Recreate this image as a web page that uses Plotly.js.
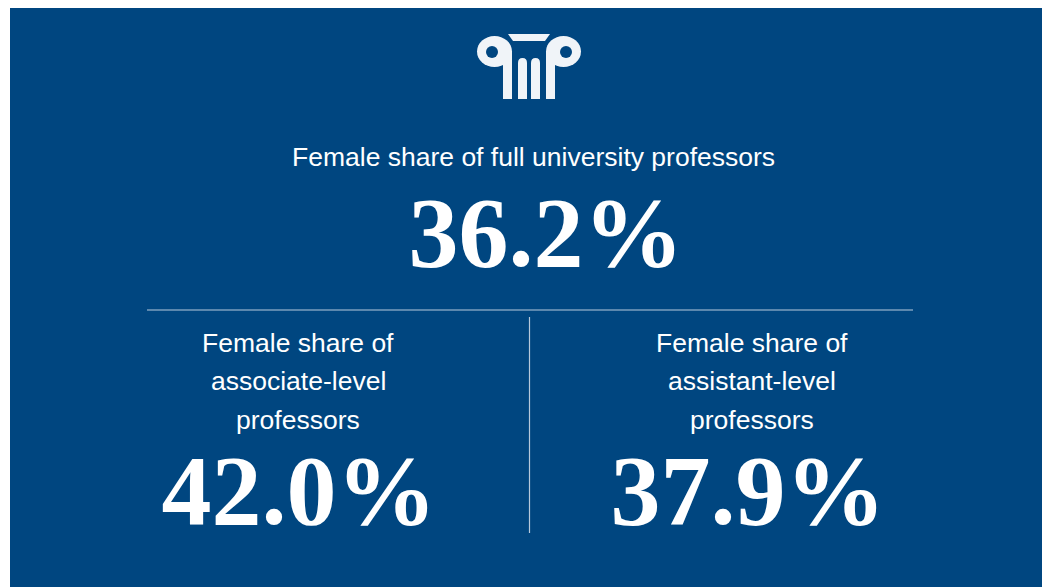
<!DOCTYPE html>
<html>
<head>
<meta charset="utf-8">
<script src="https://cdn.plot.ly/plotly-3.0.1.min.js"></script>
<style>
  html, body { margin: 0; padding: 0; background: #ffffff; }
  #chart { width: 1042px; height: 587px; }
</style>
</head>
<body>
<div id="chart"></div>
<script>
// ---- data ----
const headlineLabel = "Female share of full university professors";
const headlineValue = 36.2;
const columnLabels = [
  ["Female share of", "associate-level", "professors"],
  ["Female share of", "assistant-level", "professors"]
];
const columnValues = [42.0, 37.9];

// ---- layout constants (positions / styles) ----
const W = 1042, H = 587;
const BG = "#004680";
const FG = "#ffffff";
const SANS = "Liberation Sans, Arial, sans-serif";
const SERIF = "Liberation Serif, Times New Roman, serif";
const headlinePos = { x: 533, labelY: 157, valueX: 546, valueY: 241 };
const columnPos = [ { x: 298, valueX: 299 }, { x: 752, valueX: 748 } ];
const columnLineY = [342.5, 381, 419.5];
const columnValueY = 499;
const labelSize = 26.5;
const valueSize = 100;

const fmt = v => v.toFixed(1) + "%";

// values trace
const valueTrace = {
  type: "scatter",
  mode: "text",
  x: [headlinePos.valueX].concat(columnPos.map(p => p.valueX)),
  y: [headlinePos.valueY, columnValueY, columnValueY],
  text: [fmt(headlineValue)].concat(columnValues.map(fmt)),
  textposition: "middle center",
  textfont: { family: SERIF, size: valueSize, color: FG, weight: 700 },
  hoverinfo: "skip",
  showlegend: false,
  cliponaxis: false
};

// annotations for labels
const annotations = [{
  x: headlinePos.x, y: headlinePos.labelY, xref: "x", yref: "y",
  text: headlineLabel, showarrow: false, xanchor: "center", yanchor: "middle",
  font: { family: SANS, size: labelSize, color: FG }
}];
columnLabels.forEach((lines, i) => {
  lines.forEach((ln, j) => {
    annotations.push({
      x: columnPos[i].x, y: columnLineY[j], xref: "x", yref: "y",
      text: ln, showarrow: false, xanchor: "center", yanchor: "middle",
      font: { family: SANS, size: labelSize, color: FG }
    });
  });
});

// logo + panel shapes
const LOGO = "#f0f4f8";
const cx = 529;
function mirrorX(x) { return 2 * cx - x; }
const shapes = [
  { type: "rect", xref: "x", yref: "y", x0: 10, x1: W, y0: 8, y1: H, fillcolor: BG, line: { width: 0 }, layer: "below" },
  // dividers
  { type: "line", xref: "x", yref: "y", x0: 147, x1: 913, y0: 310, y1: 310, line: { color: "#b7c9db", width: 1.2 } },
  { type: "line", xref: "x", yref: "y", x0: 529.5, x1: 529.5, y0: 317, y1: 533, line: { color: "#b7c9db", width: 1.2 } },
  // logo top trapezoid
  { type: "path", xref: "x", yref: "y", path: "M508,34 L550,34 L545,41 L513,41 Z", fillcolor: LOGO, line: { width: 0 } }
];
// left and right scroll + stem
[false, true].forEach(m => {
  const f = x => (m ? mirrorX(x) : x);
  const a = Math.min(f(477), f(512)), b = Math.max(f(477), f(512));
  shapes.push({ type: "circle", xref: "x", yref: "y", x0: a, x1: b, y0: 36, y1: 67, fillcolor: LOGO, line: { width: 0 } });
  const ha = Math.min(f(486), f(498)), hb = Math.max(f(486), f(498));
  shapes.push({ type: "circle", xref: "x", yref: "y", x0: ha, x1: hb, y0: 46, y1: 58, fillcolor: BG, line: { width: 0 } });
  const sa = Math.min(f(503), f(512)), sb = Math.max(f(503), f(512));
  shapes.push({ type: "rect", xref: "x", yref: "y", x0: sa, x1: sb, y0: 51, y1: 99, fillcolor: LOGO, line: { width: 0 } });
});
// middle two columns with rounded tops
[[518, 527], [531, 540]].forEach(([a, b]) => {
  const m = (a + b) / 2;
  shapes.push({
    type: "path", xref: "x", yref: "y",
    path: `M${a},99 L${a},63 Q${a},58 ${m},58 Q${b},58 ${b},63 L${b},99 Z`,
    fillcolor: LOGO, line: { width: 0 }
  });
});

const layout = {
  width: W, height: H,
  margin: { l: 0, r: 0, t: 0, b: 0, pad: 0 },
  paper_bgcolor: "#ffffff",
  plot_bgcolor: "rgba(0,0,0,0)",
  xaxis: { range: [0, W], visible: false, fixedrange: true },
  yaxis: { range: [H, 0], visible: false, fixedrange: true },
  showlegend: false,
  shapes: shapes,
  annotations: annotations
};

Plotly.newPlot("chart", [valueTrace], layout, { displayModeBar: false, staticPlot: true });
</script>
</body>
</html>
